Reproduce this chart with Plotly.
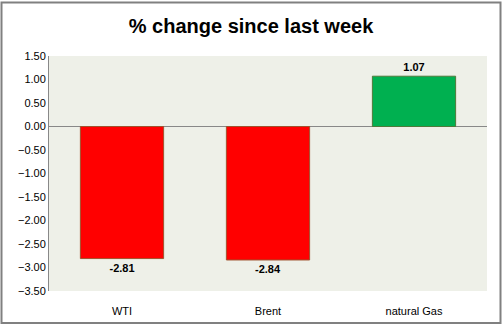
import plotly.graph_objects as go

categories = ["WTI", "Brent", "natural Gas"]
values = [-2.81, -2.84, 1.07]
fill_colors = ["#FF0000", "#FF0000", "#00B050"]
line_colors = ["#A0522D", "#A0522D", "#4F7A3A"]
tick_vals = [1.5, 1.0, 0.5, 0.0, -0.5, -1.0, -1.5, -2.0, -2.5, -3.0, -3.5]

W, H = 502, 329
L, R, T, B = 49, 15, 56, 34
pw, ph = W - L - R, H - T - B

fig = go.Figure(go.Bar(
    x=categories, y=values,
    marker=dict(color=fill_colors, line=dict(color=line_colors, width=1)),
    text=[f"{v:.2f}" for v in values], textposition="outside",
    textfont=dict(family="Liberation Sans", size=11, color="black", weight="bold"),
    cliponaxis=False, width=0.57,
))

fig.update_layout(
    width=W, height=H,
    margin=dict(l=L, r=R, t=T, b=B),
    paper_bgcolor="white", plot_bgcolor="#EEF0E8",
    title=dict(text="<b>% change since last week</b>", x=0.5, xanchor="center",
               y=1 - 26 / H, yanchor="middle",
               font=dict(family="Liberation Sans", size=20, color="black")),
    showlegend=False,
    font=dict(family="Liberation Sans", size=11, color="black"),
    xaxis=dict(showgrid=False, showline=False, ticks="outside", ticklen=10,
               tickcolor="rgba(0,0,0,0)", tickfont=dict(size=11)),
    yaxis=dict(range=[-3.5, 1.5], tickvals=tick_vals, tickformat=".2f",
               showgrid=False, showline=True, linecolor="#888888", linewidth=1,
               zeroline=True, zerolinecolor="#888888", zerolinewidth=1,
               ticks="", tickfont=dict(size=11)),
    shapes=[dict(type="rect", xref="paper", yref="paper",
                 x0=-(L - 1.5) / pw, x1=1 + (R - 1.5) / pw,
                 y0=-(B - 1.5) / ph, y1=1 + (T - 1.5) / ph,
                 line=dict(color="#808080", width=2), layer="below")],
)

fig.write_html("out.html")
